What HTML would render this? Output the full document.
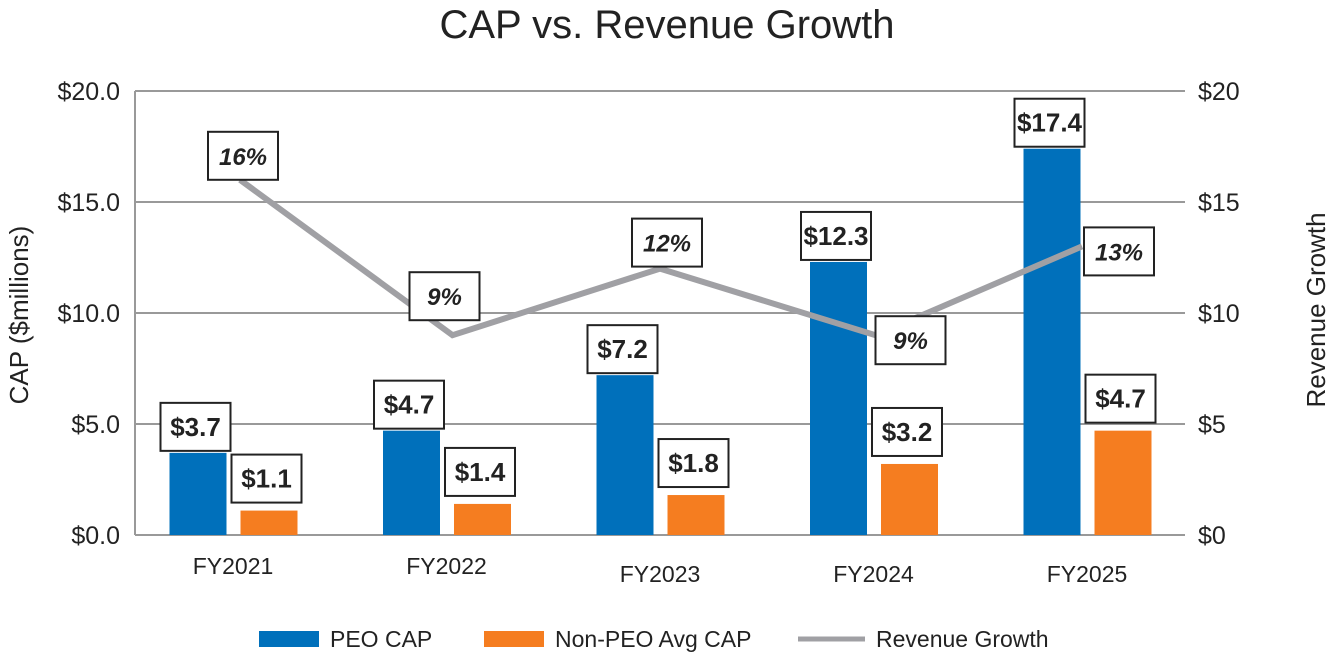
<!DOCTYPE html>
<html><head><meta charset="utf-8"><style>
body{margin:0;background:#fff;}
svg text{font-family:"Liberation Sans",sans-serif;}
</style></head><body>
<svg width="1334" height="654" xmlns="http://www.w3.org/2000/svg" id="chart">
<text x="667" y="38" font-size="40" text-anchor="middle" fill="#222">CAP vs. Revenue Growth</text>
<g id="grid"></g><g id="bars"></g><g id="line"></g><g id="labels"></g>
<text transform="translate(28,315) rotate(-90)" font-size="26" text-anchor="middle" fill="#222">CAP ($millions)</text>
<text transform="translate(1325,310) rotate(-90)" font-size="26" text-anchor="middle" fill="#222">Revenue Growth</text>
<g>
<rect x="259" y="631" width="60" height="16" fill="#0070bb"/>
<text x="330" y="647" font-size="23" fill="#222">PEO CAP</text>
<rect x="484" y="631" width="60" height="16" fill="#f57d20"/>
<text x="555" y="647" font-size="23" fill="#222">Non-PEO Avg CAP</text>
<line x1="798" y1="639" x2="865" y2="639" stroke="#a0a0a4" stroke-width="5"/>
<text x="876" y="647" font-size="23" fill="#222">Revenue Growth</text>
</g>
</svg>
<script>
const categories=["FY2021","FY2022","FY2023","FY2024","FY2025"];
const peoCap=[3.7,4.7,7.2,12.3,17.4];
const nonPeoCap=[1.1,1.4,1.8,3.2,4.7];
const revenueGrowth=[16,9,12,9,13];
const leftTicks=["$0.0","$5.0","$10.0","$15.0","$20.0"];
const rightTicks=["$0","$5","$10","$15","$20"];
const tickValues=[0,5,10,15,20];
const NS="http://www.w3.org/2000/svg";
const y=v=>535-v*22.2;
const cx=i=>233+i*213.5;
function mk(tag,attrs,parent,text){const e=document.createElementNS(NS,tag);for(const k in attrs)e.setAttribute(k,attrs[k]);if(text!==undefined)e.textContent=text;parent.appendChild(e);return e;}
const grid=document.getElementById('grid'),bars=document.getElementById('bars'),line=document.getElementById('line'),labels=document.getElementById('labels');
mk('line',{x1:135,y1:y(20),x2:135,y2:y(0),stroke:'#999','stroke-width':2},grid);
tickValues.forEach((t,i)=>{
  const g=mk('line',{x1:135,y1:y(t),x2:1185,y2:y(t),stroke:'#999','stroke-width':2},grid);
  
  
  const a=mk('text',{x:120,y:y(t)+9,'font-size':25,'text-anchor':'end',fill:'#222'},grid,leftTicks[i]);
  
  
  const b=mk('text',{x:1198,y:y(t)+9,'font-size':25,fill:'#222'},grid,rightTicks[i]);
  
  
});
const catY=[574,574,582,582,582];
function box(xc,bottom,txt,italic,name){
  const g=mk('g',{},labels);
  
  
  mk('rect',{x:xc-35,y:bottom-48,width:70,height:48,fill:'#fff',stroke:'#222','stroke-width':2},g);
  mk('text',{x:xc,y:bottom-15,'font-size':italic?24:26,'font-weight':'bold','font-style':italic?'italic':'normal','text-anchor':'middle',fill:'#222'},g,txt);
}
categories.forEach((c,i)=>{
  const t=mk('text',{x:cx(i),y:catY[i],'font-size':23,'text-anchor':'middle',fill:'#222'},grid,c);
  
  
  const px=cx(i)-35.5, nx=cx(i)+35.5;
  const b1=mk('rect',{x:px-28,y:y(peoCap[i]),width:57,height:y(0)-y(peoCap[i]),fill:'#0070bb'},bars);
  
  
  const b2=mk('rect',{x:nx-28,y:y(nonPeoCap[i]),width:57,height:y(0)-y(nonPeoCap[i]),fill:'#f57d20'},bars);
  
  
  box(px-2,y(peoCap[i])-2,'$'+peoCap[i].toFixed(1),false,'peo-value-label');
  box(nx-2,y(nonPeoCap[i])-8,'$'+nonPeoCap[i].toFixed(1),false,'nonpeo-value-label');
});
const lx=i=>cx(i)+[7,6,0,2,-5][i];
const pts=revenueGrowth.map((v,i)=>lx(i)+','+y(v)).join(' ');
const pl=mk('polyline',{points:pts,fill:'none',stroke:'#a0a0a4','stroke-width':6},line);


const offX=[3,-8,7,35,37],offY=[0,-15,-2,29,29];
revenueGrowth.forEach((v,i)=>{box(lx(i)+offX[i],y(v)+offY[i],v+'%',true,'revenue-growth-label');});
</script>
</body></html>
